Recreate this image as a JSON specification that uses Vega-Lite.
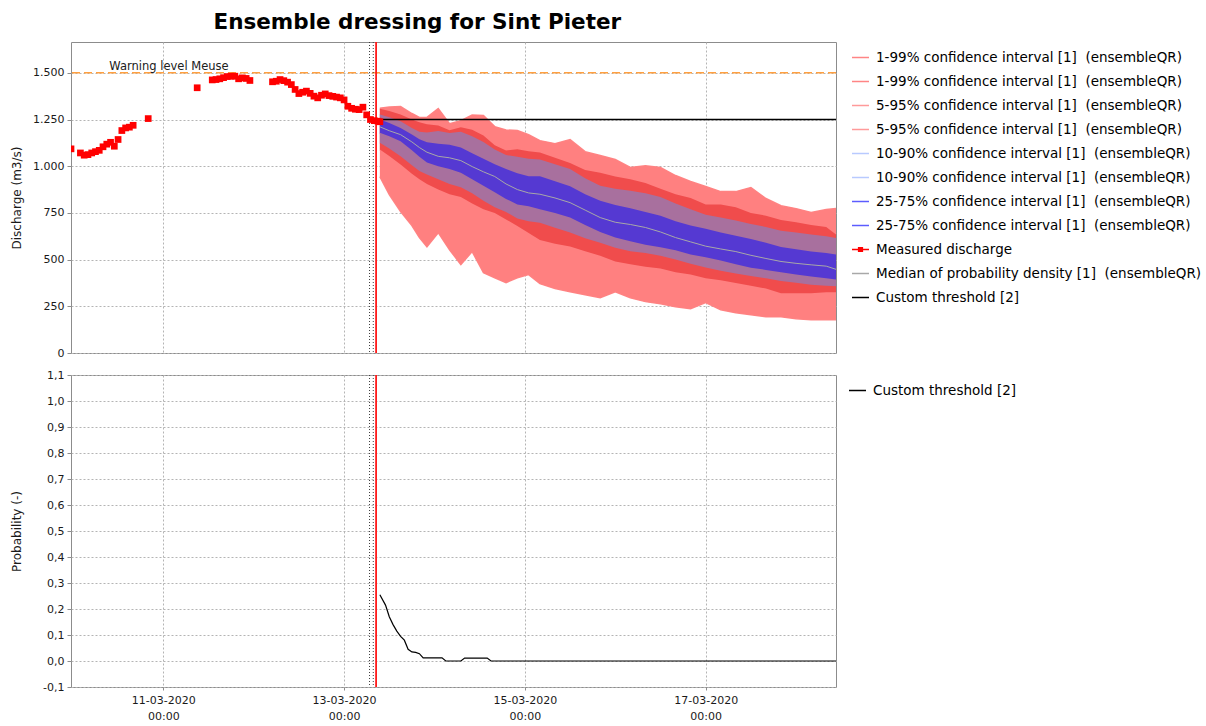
{
  "$schema": "https://vega.github.io/schema/vega-lite/v6.json",
  "background": "#ffffff",
  "padding": {"left": 9, "top": 12, "right": 5, "bottom": 5},
  "title": {"text": "Ensemble dressing for Sint Pieter", "font": "DejaVu Sans", "fontSize": 21.5, "fontWeight": "bold", "color": "#000000", "anchor": "start", "frame": "bounds", "dx": 204, "offset": -15, "baseline": "bottom"},
  "datasets": {
    "fc": [
      {"t":"2020-03-13T09:30","q01":944,"q05":1089,"q10":1125,"q25":1179,"q50":1211,"q75":1250,"q90":1277,"q95":1307,"q99":1311},
      {"t":"2020-03-13T12:00","q01":848,"q05":1055,"q10":1095,"q25":1160,"q50":1190,"q75":1232,"q90":1262,"q95":1295,"q99":1317},
      {"t":"2020-03-13T15:00","q01":757,"q05":1009,"q10":1053,"q25":1134,"q50":1169,"q75":1205,"q90":1241,"q95":1277,"q99":1319},
      {"t":"2020-03-13T18:00","q01":682,"q05":960,"q10":1005,"q25":1085,"q50":1130,"q75":1170,"q90":1205,"q95":1250,"q99":1282},
      {"t":"2020-03-13T20:00","q01":618,"q05":930,"q10":975,"q25":1050,"q50":1100,"q75":1145,"q90":1185,"q95":1235,"q99":1261},
      {"t":"2020-03-13T22:00","q01":569,"q05":905,"q10":955,"q25":1020,"q50":1075,"q75":1128,"q90":1180,"q95":1225,"q99":1261},
      {"t":"2020-03-14T01:00","q01":644,"q05":875,"q10":930,"q25":1000,"q50":1053,"q75":1120,"q90":1188,"q95":1218,"q99":1309},
      {"t":"2020-03-14T04:00","q01":553,"q05":850,"q10":905,"q25":985,"q50":1045,"q75":1115,"q90":1178,"q95":1193,"q99":1228},
      {"t":"2020-03-14T07:00","q01":473,"q05":835,"q10":888,"q25":965,"q50":1030,"q75":1100,"q90":1185,"q95":1209,"q99":1244},
      {"t":"2020-03-14T10:00","q01":543,"q05":800,"q10":855,"q25":930,"q50":998,"q75":1070,"q90":1160,"q95":1195,"q99":1274},
      {"t":"2020-03-14T13:00","q01":430,"q05":770,"q10":815,"q25":895,"q50":970,"q75":1040,"q90":1130,"q95":1165,"q99":1271},
      {"t":"2020-03-14T16:00","q01":403,"q05":750,"q10":780,"q25":860,"q50":945,"q75":1010,"q90":1090,"q95":1112,"q99":1212},
      {"t":"2020-03-14T19:00","q01":377,"q05":715,"q10":755,"q25":825,"q50":905,"q75":985,"q90":1060,"q95":1084,"q99":1194},
      {"t":"2020-03-14T22:00","q01":403,"q05":680,"q10":720,"q25":795,"q50":875,"q75":962,"q90":1050,"q95":1091,"q99":1191},
      {"t":"2020-03-15T01:00","q01":420,"q05":643,"q10":705,"q25":785,"q50":857,"q75":946,"q90":1040,"q95":1080,"q99":1169},
      {"t":"2020-03-15T04:00","q01":371,"q05":605,"q10":697,"q25":770,"q50":850,"q75":946,"q90":1036,"q95":1074,"q99":1137},
      {"t":"2020-03-15T08:00","q01":345,"q05":585,"q10":670,"q25":750,"q50":830,"q75":920,"q90":1010,"q95":1045,"q99":1121},
      {"t":"2020-03-15T12:00","q01":328,"q05":570,"q10":645,"q25":725,"q50":805,"q75":893,"q90":985,"q95":1017,"q99":1142},
      {"t":"2020-03-15T16:00","q01":312,"q05":545,"q10":615,"q25":685,"q50":765,"q75":850,"q90":935,"q95":980,"q99":1078},
      {"t":"2020-03-15T20:00","q01":296,"q05":520,"q10":590,"q25":648,"q50":725,"q75":815,"q90":895,"q95":965,"q99":1057},
      {"t":"2020-03-16T00:00","q01":328,"q05":490,"q10":563,"q25":618,"q50":700,"q75":792,"q90":880,"q95":945,"q99":1036},
      {"t":"2020-03-16T04:00","q01":296,"q05":475,"q10":545,"q25":598,"q50":688,"q75":775,"q90":868,"q95":930,"q99":993},
      {"t":"2020-03-16T08:00","q01":275,"q05":462,"q10":535,"q25":580,"q50":672,"q75":755,"q90":855,"q95":910,"q99":1003},
      {"t":"2020-03-16T12:00","q01":264,"q05":452,"q10":520,"q25":566,"q50":648,"q75":735,"q90":835,"q95":880,"q99":993},
      {"t":"2020-03-16T16:00","q01":248,"q05":432,"q10":500,"q25":550,"q50":618,"q75":705,"q90":800,"q95":850,"q99":950},
      {"t":"2020-03-16T20:00","q01":237,"q05":420,"q10":478,"q25":528,"q50":595,"q75":682,"q90":770,"q95":830,"q99":918},
      {"t":"2020-03-17T00:00","q01":270,"q05":400,"q10":458,"q25":512,"q50":572,"q75":665,"q90":740,"q95":795,"q99":891},
      {"t":"2020-03-17T04:00","q01":232,"q05":390,"q10":440,"q25":495,"q50":557,"q75":645,"q90":725,"q95":795,"q99":864},
      {"t":"2020-03-17T08:00","q01":216,"q05":375,"q10":425,"q25":475,"q50":543,"q75":628,"q90":710,"q95":780,"q99":864},
      {"t":"2020-03-17T12:00","q01":205,"q05":360,"q10":412,"q25":457,"q50":523,"q75":610,"q90":690,"q95":750,"q99":886},
      {"t":"2020-03-17T16:00","q01":194,"q05":345,"q10":400,"q25":445,"q50":506,"q75":590,"q90":675,"q95":735,"q99":827},
      {"t":"2020-03-17T20:00","q01":194,"q05":320,"q10":386,"q25":432,"q50":490,"q75":567,"q90":655,"q95":712,"q99":789},
      {"t":"2020-03-18T00:00","q01":184,"q05":320,"q10":376,"q25":420,"q50":480,"q75":555,"q90":645,"q95":700,"q99":773},
      {"t":"2020-03-18T04:00","q01":178,"q05":320,"q10":366,"q25":410,"q50":472,"q75":544,"q90":634,"q95":685,"q99":752},
      {"t":"2020-03-18T08:00","q01":178,"q05":325,"q10":360,"q25":400,"q50":465,"q75":535,"q90":625,"q95":675,"q99":768},
      {"t":"2020-03-18T10:36","q01":178,"q05":325,"q10":357,"q25":393,"q50":448,"q75":527,"q90":616,"q95":635,"q99":773}
    ],
    "meas": [
      {"t":"2020-03-09T23:30","v":1093},{"t":"2020-03-10T02:00","v":1071},{"t":"2020-03-10T03:00","v":1059},{"t":"2020-03-10T04:00","v":1062},
      {"t":"2020-03-10T05:00","v":1071},{"t":"2020-03-10T06:00","v":1078},{"t":"2020-03-10T07:00","v":1085},{"t":"2020-03-10T08:00","v":1104},
      {"t":"2020-03-10T09:00","v":1118},{"t":"2020-03-10T10:00","v":1128},{"t":"2020-03-10T11:00","v":1107},{"t":"2020-03-10T12:00","v":1143},
      {"t":"2020-03-10T13:00","v":1191},{"t":"2020-03-10T14:00","v":1205},{"t":"2020-03-10T15:00","v":1209},{"t":"2020-03-10T16:00","v":1219},
      {"t":"2020-03-10T20:00","v":1255},{"t":"2020-03-11T09:00","v":1420},
      {"t":"2020-03-11T13:00","v":1462},{"t":"2020-03-11T14:00","v":1464},{"t":"2020-03-11T15:00","v":1468},{"t":"2020-03-11T16:00","v":1474},
      {"t":"2020-03-11T17:00","v":1480},{"t":"2020-03-11T18:00","v":1482},{"t":"2020-03-11T19:00","v":1482},{"t":"2020-03-11T20:00","v":1468},
      {"t":"2020-03-11T21:00","v":1473},{"t":"2020-03-11T22:00","v":1470},{"t":"2020-03-11T23:00","v":1459},
      {"t":"2020-03-12T05:00","v":1452},{"t":"2020-03-12T06:00","v":1455},{"t":"2020-03-12T07:00","v":1464},{"t":"2020-03-12T08:00","v":1458},
      {"t":"2020-03-12T09:00","v":1450},{"t":"2020-03-12T10:00","v":1437},{"t":"2020-03-12T11:00","v":1411},{"t":"2020-03-12T12:00","v":1389},
      {"t":"2020-03-12T13:00","v":1396},{"t":"2020-03-12T14:00","v":1402},{"t":"2020-03-12T15:00","v":1390},{"t":"2020-03-12T16:00","v":1375},
      {"t":"2020-03-12T17:00","v":1366},{"t":"2020-03-12T18:00","v":1380},{"t":"2020-03-12T19:00","v":1387},{"t":"2020-03-12T20:00","v":1378},
      {"t":"2020-03-12T21:00","v":1374},{"t":"2020-03-12T22:00","v":1370},{"t":"2020-03-12T23:00","v":1366},{"t":"2020-03-13T00:00","v":1355},
      {"t":"2020-03-13T01:00","v":1321},{"t":"2020-03-13T02:00","v":1310},{"t":"2020-03-13T03:00","v":1305},{"t":"2020-03-13T04:00","v":1303},
      {"t":"2020-03-13T05:00","v":1316},{"t":"2020-03-13T06:00","v":1275},{"t":"2020-03-13T07:00","v":1250},{"t":"2020-03-13T08:00","v":1244},
      {"t":"2020-03-13T09:00","v":1241},{"t":"2020-03-13T09:30","v":1238}
    ],
    "prob": [
      {"t":"2020-03-13T09:30","p":0.255},{"t":"2020-03-13T11:00","p":0.215},{"t":"2020-03-13T12:00","p":0.17},{"t":"2020-03-13T13:00","p":0.14},
      {"t":"2020-03-13T14:00","p":0.115},{"t":"2020-03-13T15:00","p":0.095},{"t":"2020-03-13T16:00","p":0.08},{"t":"2020-03-13T17:00","p":0.045},
      {"t":"2020-03-13T18:00","p":0.035},{"t":"2020-03-13T19:00","p":0.033},{"t":"2020-03-13T20:00","p":0.028},{"t":"2020-03-13T21:00","p":0.012},
      {"t":"2020-03-14T02:00","p":0.012},{"t":"2020-03-14T03:00","p":0.0},{"t":"2020-03-14T07:00","p":0.0},{"t":"2020-03-14T08:00","p":0.011},
      {"t":"2020-03-14T14:00","p":0.011},{"t":"2020-03-14T15:00","p":0.0},{"t":"2020-03-18T10:36","p":0.0}
    ],
    "thr": [{"t":"2020-03-13T09:30","v":1250},{"t":"2020-03-18T10:36","v":1250}],
    "marks": [{"t":"2020-03-13T06:45","kind":"dot"},{"t":"2020-03-13T07:45","kind":"dot"},{"t":"2020-03-13T08:30","kind":"t0"}],
    "warn": [{"t":"2020-03-10T09:40","level":1500,"label":"Warning level Meuse"}]
  },
  "vconcat": [
    {
      "width": 765,
      "height": 311,
      "layer": [
        {
          "data": {"name": "fc"},
          "transform": [{"fold": ["q01","q99","q05","q95","q10","q90","q25","q75"], "as": ["key","val"]}],
          "mark": {"type": "line", "strokeWidth": 1.5},
          "encoding": {
            "x": {"field": "t", "type": "temporal", "title": null,
                  "scale": {"domain": [{"year":2020,"month":3,"date":9,"hours":23,"minutes":30},{"year":2020,"month":3,"date":18,"hours":10,"minutes":36}]},
                  "axis": {"values": [{"year":2020,"month":3,"date":11},{"year":2020,"month":3,"date":13},{"year":2020,"month":3,"date":15},{"year":2020,"month":3,"date":17}],
                           "labels": false, "ticks": false, "domain": false, "grid": true}},
            "y": {"field": "val", "type": "quantitative", "title": "Discharge (m3/s)",
                  "scale": {"domain": [0, 1665], "nice": false, "zero": false},
                  "axis": {"values": [0,250,500,750,1000,1250,1500], "labelExpr": "replace(format(datum.value, ',d'), ',', '.')", "titleX": -48, "grid": true}},
            "color": {"field": "key", "type": "nominal",
                      "scale": {"domain": ["q01","q99","q05","q95","q10","q90","q25","q75","meas","med","thr"],
                                "range": ["#ff8585","#ff8585","#ff9a9a","#ff9a9a","#b8caff","#b8caff","#5c5cff","#5c5cff","#ff0000","#a8a8a8","#000000"]},
                      "legend": {
                        "title": null,
                        "labelExpr": "indexof(['q01','q99'], datum.value) >= 0 ? '1-99% confidence interval [1] \u00a0(ensembleQR)' : indexof(['q05','q95'], datum.value) >= 0 ? '5-95% confidence interval [1] \u00a0(ensembleQR)' : indexof(['q10','q90'], datum.value) >= 0 ? '10-90% confidence interval [1] \u00a0(ensembleQR)' : indexof(['q25','q75'], datum.value) >= 0 ? '25-75% confidence interval [1] \u00a0(ensembleQR)' : datum.value == 'meas' ? 'Measured discharge' : datum.value == 'med' ? 'Median of probability density [1] \u00a0(ensembleQR)' : 'Custom threshold [2]'",
                        "encode": {"symbols": {"update": {
                          "shape": {"signal": "datum.value === 'meas' ? 'M-1,0H1M-0.22,-0.22H0.22V0.22H-0.22Z' : 'stroke'"},
                          "fill": {"signal": "datum.value === 'meas' ? '#ff0000' : 'transparent'"}
                        }}}
                      }}
          }
        },
        {
          "data": {"name": "fc"},
          "mark": {"type": "area", "fill": "#ff8080"},
          "encoding": {
            "x": {"field": "t", "type": "temporal", "title": null},
            "y": {"field": "q01", "type": "quantitative", "title": "Discharge (m3/s)"},
            "y2": {"field": "q99"}
          }
        },
        {
          "data": {"name": "fc"},
          "mark": {"type": "area", "fill": "#f04c4c"},
          "encoding": {
            "x": {"field": "t", "type": "temporal", "title": null},
            "y": {"field": "q05", "type": "quantitative", "title": "Discharge (m3/s)"},
            "y2": {"field": "q95"}
          }
        },
        {
          "data": {"name": "fc"},
          "mark": {"type": "area", "fill": "#a8709e"},
          "encoding": {
            "x": {"field": "t", "type": "temporal", "title": null},
            "y": {"field": "q10", "type": "quantitative", "title": "Discharge (m3/s)"},
            "y2": {"field": "q90"}
          }
        },
        {
          "data": {"name": "fc"},
          "mark": {"type": "area", "fill": "#5539d2"},
          "encoding": {
            "x": {"field": "t", "type": "temporal", "title": null},
            "y": {"field": "q25", "type": "quantitative", "title": "Discharge (m3/s)"},
            "y2": {"field": "q75"}
          }
        },
        {
          "data": {"name": "fc"},
          "mark": {"type": "line", "strokeWidth": 1},
          "encoding": {
            "x": {"field": "t", "type": "temporal", "title": null},
            "y": {"field": "q50", "type": "quantitative", "title": "Discharge (m3/s)"},
            "color": {"datum": "med", "legend": null}
          }
        },
        {
          "data": {"name": "thr"},
          "mark": {"type": "line", "strokeWidth": 1.5},
          "encoding": {
            "x": {"field": "t", "type": "temporal", "title": null},
            "y": {"field": "v", "type": "quantitative", "title": "Discharge (m3/s)"},
            "color": {"datum": "thr", "legend": null}
          }
        },
        {
          "data": {"name": "warn"},
          "mark": {"type": "rule", "color": "#ffa040", "strokeWidth": 1.5, "strokeDash": [8, 4]},
          "encoding": {
            "y": {"field": "level", "type": "quantitative", "title": "Discharge (m3/s)"}
          }
        },
        {
          "data": {"name": "warn"},
          "mark": {"type": "text", "align": "left", "baseline": "alphabetic", "dy": -3, "font": "DejaVu Sans", "fontSize": 11.5, "color": "#202020"},
          "encoding": {
            "x": {"field": "t", "type": "temporal", "title": null},
            "y": {"field": "level", "type": "quantitative", "title": "Discharge (m3/s)"},
            "text": {"field": "label"}
          }
        },
        {
          "data": {"name": "marks"},
          "transform": [{"filter": "datum.kind == 'dot'"}],
          "mark": {"type": "rule", "color": "#404040", "strokeWidth": 1, "strokeDash": [1, 2]},
          "encoding": {"x": {"field": "t", "type": "temporal", "title": null}}
        },
        {
          "data": {"name": "marks"},
          "transform": [{"filter": "datum.kind == 't0'"}],
          "mark": {"type": "rule", "color": "#ff1a1a", "strokeWidth": 1.8},
          "encoding": {"x": {"field": "t", "type": "temporal", "title": null}}
        },
        {
          "data": {"name": "meas"},
          "mark": {"type": "square", "size": 45, "opacity": 1, "clip": true},
          "encoding": {
            "x": {"field": "t", "type": "temporal", "title": null},
            "y": {"field": "v", "type": "quantitative", "title": "Discharge (m3/s)"},
            "color": {"datum": "meas", "legend": null}
          }
        }
      ]
    },
    {
      "width": 765,
      "height": 312,
      "layer": [
        {
          "data": {"name": "marks"},
          "transform": [{"filter": "datum.kind == 'dot'"}],
          "mark": {"type": "rule", "color": "#404040", "strokeWidth": 1, "strokeDash": [1, 2]},
          "encoding": {
            "x": {"field": "t", "type": "temporal", "title": null,
                  "scale": {"domain": [{"year":2020,"month":3,"date":9,"hours":23,"minutes":30},{"year":2020,"month":3,"date":18,"hours":10,"minutes":36}]},
                  "axis": {"values": [{"year":2020,"month":3,"date":11},{"year":2020,"month":3,"date":13},{"year":2020,"month":3,"date":15},{"year":2020,"month":3,"date":17}],
                           "labelExpr": "[timeFormat(datum.value, '%d-%m-%Y'), timeFormat(datum.value, '%H:%M')]",
                           "labelLineHeight": 16, "labelFlush": false, "labelOverlap": false, "tickSize": 3, "labelPadding": 4, "grid": true}}
          }
        },
        {
          "data": {"name": "marks"},
          "transform": [{"filter": "datum.kind == 't0'"}],
          "mark": {"type": "rule", "color": "#ff1a1a", "strokeWidth": 1.8},
          "encoding": {"x": {"field": "t", "type": "temporal", "title": null}}
        },
        {
          "data": {"name": "prob"},
          "mark": {"type": "line", "strokeWidth": 1.2},
          "encoding": {
            "x": {"field": "t", "type": "temporal", "title": null},
            "y": {"field": "p", "type": "quantitative", "title": "Probability (-)",
                  "scale": {"domain": [-0.1, 1.1], "nice": false, "zero": false},
                  "axis": {"values": [-0.1,0,0.1,0.2,0.3,0.4,0.5,0.6,0.7,0.8,0.9,1.0,1.1],
                           "labelExpr": "replace(replace(format(datum.value, '.1f'), '.', ','), '\u2212', '-')", "titleX": -48, "grid": true}},
            "color": {"datum": "Custom threshold [2]", "scale": {"range": ["#000000"]}, "legend": {"title": null}}
          }
        }
      ]
    }
  ],
  "spacing": 9,
  "resolve": {"scale": {"color": "independent", "y": "independent"}, "legend": {"color": "independent"}},
  "config": {
    "font": "DejaVu Sans",
    "view": {"stroke": "#8c8c8c", "strokeWidth": 1},
    "axis": {"labelFont": "DejaVu Sans", "labelFontSize": 11, "labelColor": "#1a1a1a", "titleFont": "DejaVu Sans", "titleFontSize": 12, "titleFontWeight": "normal", "titleColor": "#1a1a1a",
             "gridColor": "#b4b4b4", "gridDash": [2, 2], "gridWidth": 1, "domain": false, "tickColor": "#8c8c8c", "tickSize": 4, "labelPadding": 3},
    "legend": {"orient": "right", "offset": 6, "padding": 6, "labelFont": "DejaVu Sans", "labelFontSize": 13.5, "labelColor": "#000000", "labelLimit": 500, "labelOffset": 6,
               "rowPadding": 8, "symbolSize": 289, "symbolStrokeWidth": 1.5, "symbolType": "stroke"}
  }
}
